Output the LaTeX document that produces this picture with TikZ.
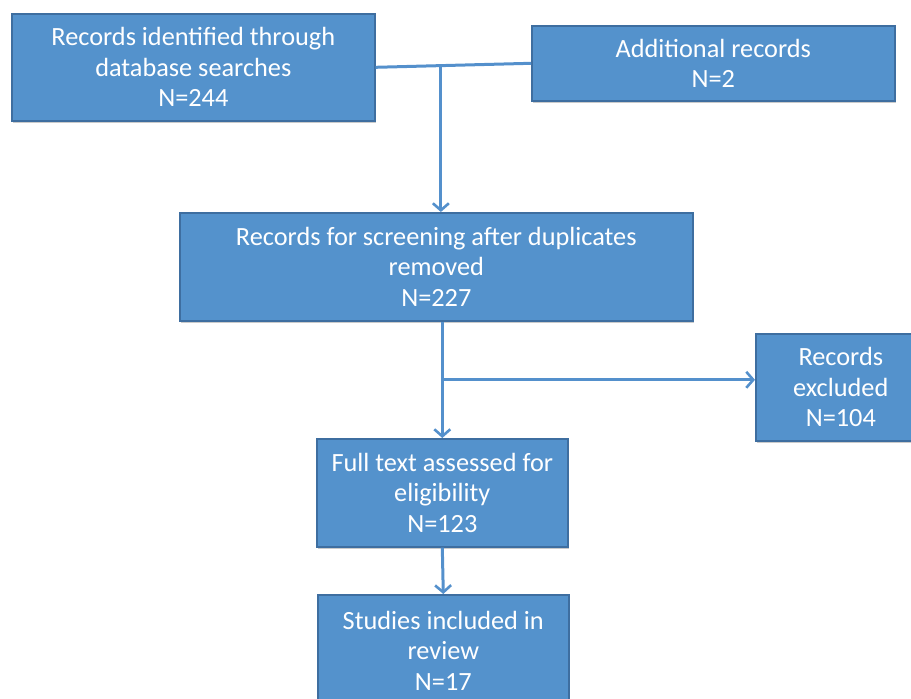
\documentclass[tikz,border=0pt]{standalone}
\usepackage{fontspec}
\setmainfont{Carlito}
\usetikzlibrary{arrows.meta,calc,shadows}
\definecolor{boxfill}{RGB}{84,146,204}
\definecolor{boxline}{RGB}{62,110,160}
\definecolor{conn}{RGB}{84,144,204}
\tikzset{
  flowbox/.style={draw=boxline, line width=1.6pt, fill=boxfill, text=white,
    anchor=north west, inner sep=0pt, align=center,
    font=\fontsize{26.3}{30.5}\selectfont,
    drop shadow={shadow xshift=1.5pt, shadow yshift=-2pt, opacity=0.35, fill=black!60}},
  link/.style={draw=conn, line width=3pt},
  arrowlink/.style={link, -{Straight Barb[length=7pt,width=16pt,line width=2.6pt]}}
}
\begin{document}
\begin{tikzpicture}[x=1pt,y=-1pt]
\useasboundingbox (0,0) rectangle (911,699);
\node[flowbox, minimum width=363pt, minimum height=107pt] (A) at (11,13)
  {Records identified through\\database searches\\N=244};
\node[flowbox, minimum width=363pt, minimum height=75pt] (B) at (531,25)
  {Additional records\\N=2};
\node[flowbox, minimum width=513pt, minimum height=108pt] (C) at (179,212)
  {Records for screening after duplicates\\removed\\N=227};
\node[flowbox, minimum width=170pt, minimum height=107pt, text width=156pt] (D) at (755,333)
  {Records\\excluded\\N=104};
\node[flowbox, minimum width=251pt, minimum height=108pt] (E) at (316,438)
  {Full text assessed for\\eligibility\\N=123};
\node[flowbox, minimum width=251pt, minimum height=112pt] (F) at (317,594)
  {Studies included in\\review\\N=17};
\coordinate (J) at ($(A.east)!0.42!(B.west)$);
\coordinate (K) at ($(C.south -| E.north)!0.5!(E.north)$);
\draw[link] (A.east) -- (B.west);
\draw[arrowlink] (J) -- (J |- C.north);
\draw[arrowlink] (C.south -| E.north) -- (E.north);
\draw[arrowlink] (K) -- (K -| D.west);
\draw[arrowlink] (E.south) -- (F.north);
\end{tikzpicture}
\end{document}
